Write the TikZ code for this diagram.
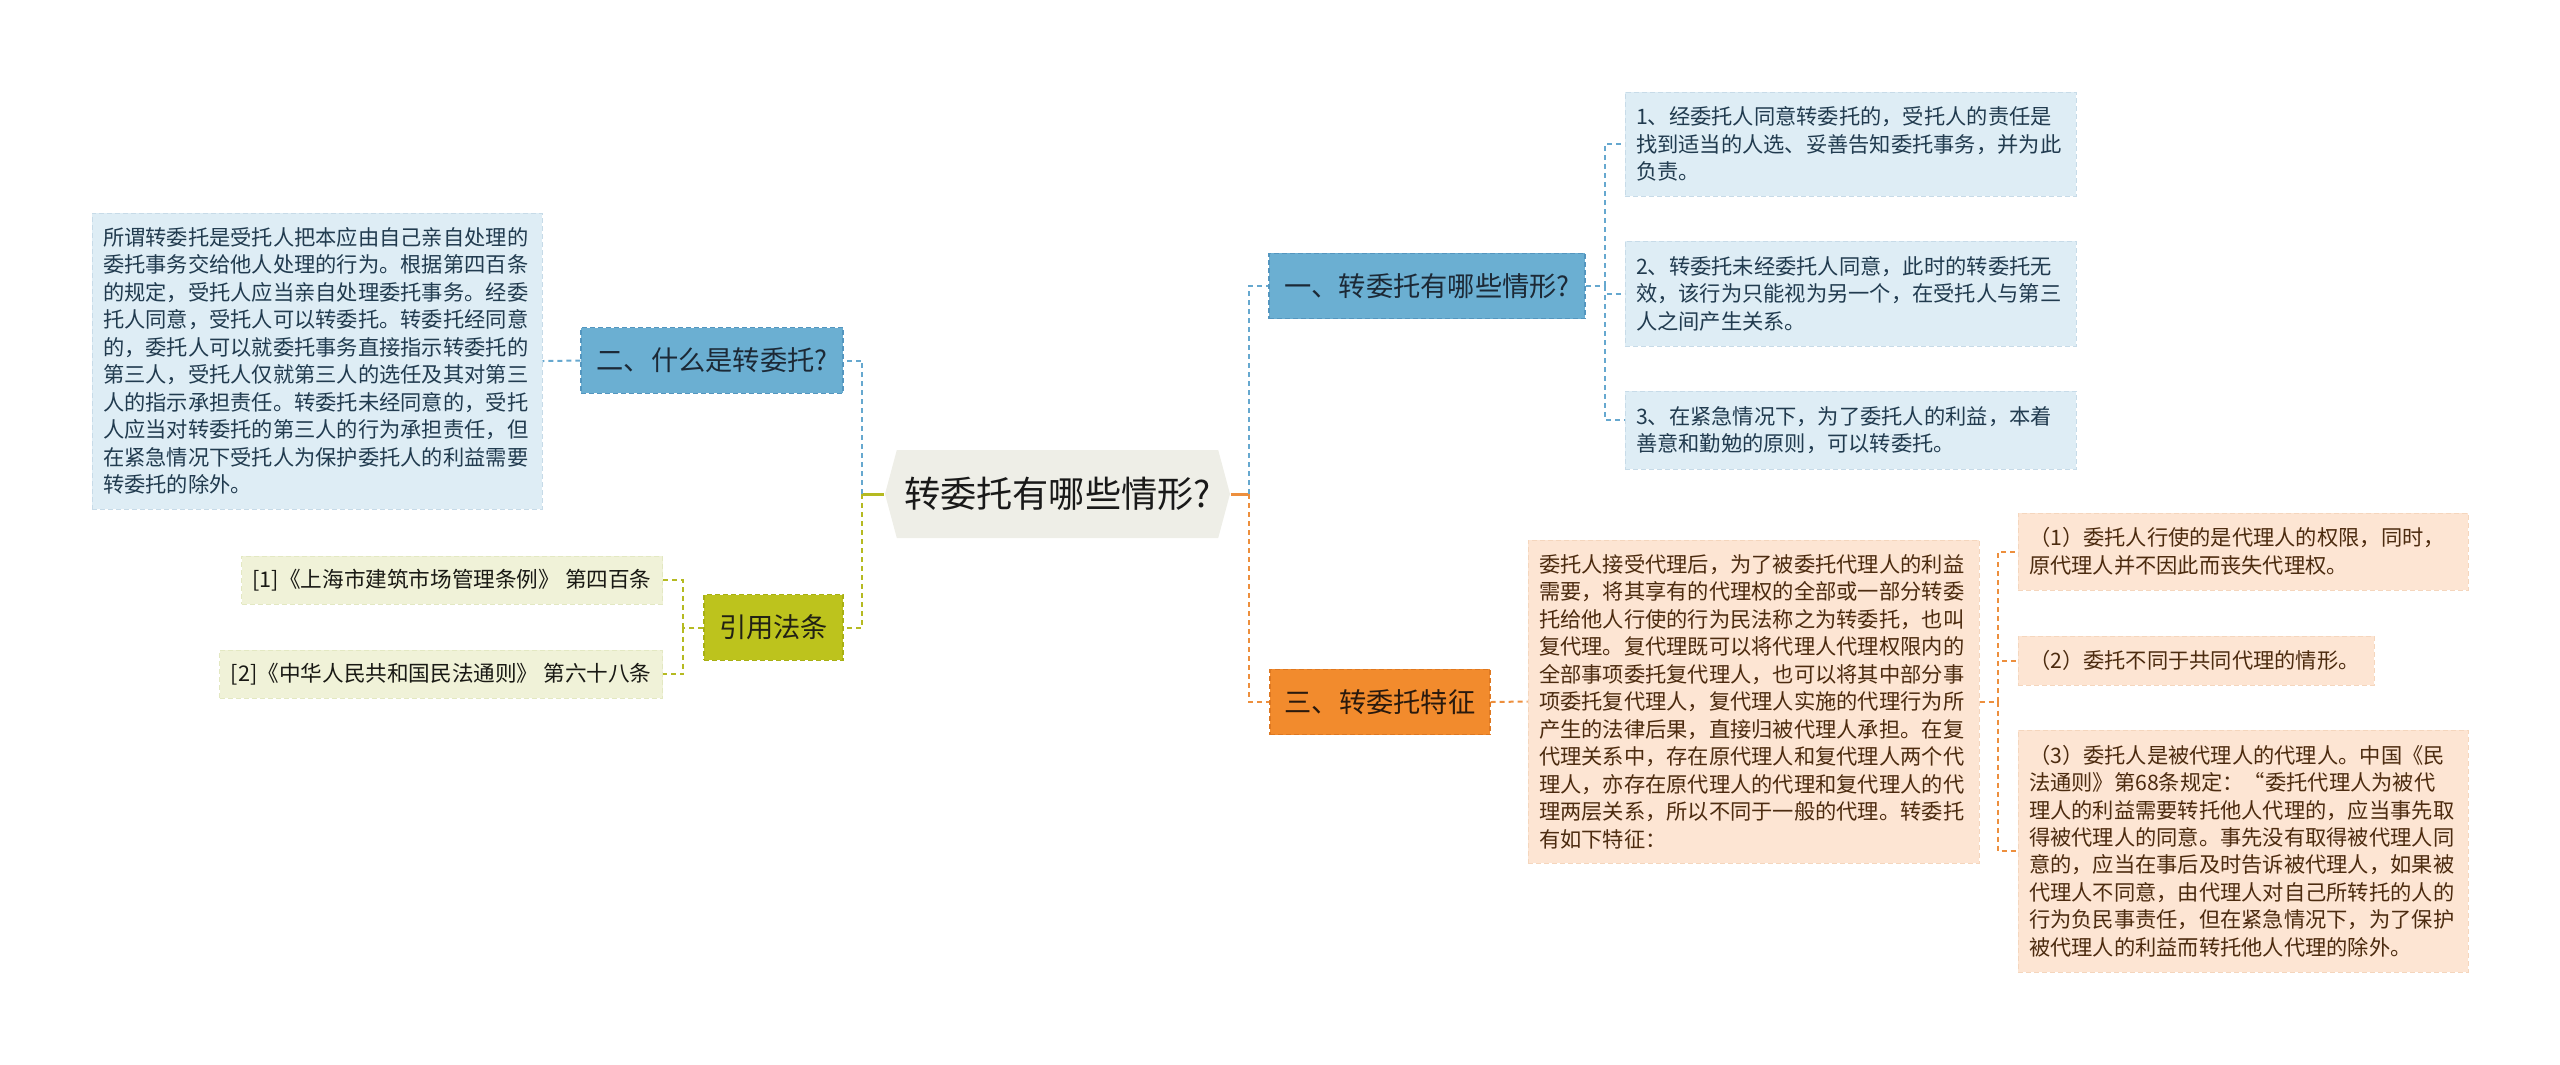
\documentclass[tikz,border=0pt]{standalone}
\usepackage{fontspec}
\setmainfont{Noto Sans CJK SC}
\usetikzlibrary{shapes.symbols,positioning}

\begin{document}
\begin{tikzpicture}[
  topic/.style={draw,dash pattern=on 0.05cm off 0.03cm,line width=0.012cm,inner sep=0pt,
    minimum height=0.655cm,font=\fontsize{7.75pt}{9pt}\selectfont},
  leaf/.style={draw,dash pattern=on 0.05cm off 0.03cm,line width=0.01cm,inner xsep=0.11cm,
    inner ysep=0pt,align=left,font=\fontsize{6.05pt}{7.82pt}\selectfont},
  link/.style={dash pattern=on 0.05cm off 0.04cm,line width=0.02cm},
  stem/.style={line width=0.03cm}
]
%
\useasboundingbox (0,0) rectangle (25.6,-10.64);
%
\definecolor{cfv0}{rgb}{0.933,0.933,0.906}
\definecolor{clv0}{rgb}{0.10,0.10,0.10}
\definecolor{cv1}{rgb}{0.33,0.59,0.75}
\definecolor{cfv1}{rgb}{0.42,0.686,0.824}
\definecolor{clv1}{rgb}{0.11,0.16,0.21}
\definecolor{cv3}{rgb}{0.66,0.69,0.08}
\definecolor{cfv3}{rgb}{0.741,0.765,0.114}
\definecolor{clv3}{rgb}{0.13,0.13,0.08}
\definecolor{cv4}{rgb}{0.87,0.47,0.13}
\definecolor{cfv4}{rgb}{0.949,0.545,0.176}
\definecolor{clv4}{rgb}{0.16,0.10,0.05}
\definecolor{cv5}{rgb}{0.78,0.86,0.91}
\definecolor{cfv5}{rgb}{0.871,0.929,0.961}
\definecolor{clv5}{rgb}{0.13,0.23,0.31}
\definecolor{cv6}{rgb}{0.89,0.91,0.76}
\definecolor{cfv6}{rgb}{0.941,0.949,0.847}
\definecolor{clv6}{rgb}{0.10,0.10,0.08}
\definecolor{cv11}{rgb}{0.96,0.84,0.74}
\definecolor{cfv11}{rgb}{0.992,0.898,0.827}
\definecolor{clv11}{rgb}{0.30,0.17,0.06}
\definecolor{cv0v1}{rgb}{0.40,0.66,0.81}
\definecolor{cv0v3}{rgb}{0.71,0.73,0.13}
\definecolor{cv0v4}{rgb}{0.93,0.56,0.24}
%
\node[signal,signal to=west and east,signal pointer angle=150,fill=cfv0,text=clv0,
  minimum width=3.45cm,minimum height=0.88cm,inner sep=0pt,
  font=\fontsize{10.3pt}{12pt}\selectfont] (v0) at (10.575,-4.94) {转委托有哪些情形?};
%
\node[topic,color=cv1,fill=cfv1,text=clv1,minimum width=3.16cm] (v1) at (14.27,-2.86) {一、转委托有哪些情形?};
\node[topic,color=cv1,fill=cfv1,text=clv1,minimum width=2.62cm] (v2) at (7.12,-3.605) {二、什么是转委托?};
\node[topic,color=cv3,fill=cfv3,text=clv3,minimum width=1.39cm] (v3) at (7.735,-6.275) {引用法条};
\node[topic,color=cv4,fill=cfv4,text=clv4,minimum width=2.20cm] (v4) at (13.80,-7.02) {三、转委托特征};
%
\node[leaf,color=cv5,fill=cfv5,text=clv5,text width=4.28cm,minimum height=2.96cm] (v5) at (3.17,-3.61) {所谓转委托是受托人把本应由自己亲自处理的\\委托事务交给他人处理的行为。根据第四百条\\的规定，受托人应当亲自处理委托事务。经委\\托人同意，受托人可以转委托。转委托经同意\\的，委托人可以就委托事务直接指示转委托的\\第三人，受托人仅就第三人的选任及其对第三\\人的指示承担责任。转委托未经同意的，受托\\人应当对转委托的第三人的行为承担责任，但\\在紧急情况下受托人为保护委托人的利益需要\\转委托的除外。};
%
\node[leaf,color=cv6,fill=cfv6,text=clv6,minimum height=0.48cm,anchor=east,
  font=\fontsize{6.15pt}{7.8pt}\selectfont] (v6) at (6.63,-5.80) {[1]《上海市建筑市场管理条例》 第四百条};
\node[leaf,color=cv6,fill=cfv6,text=clv6,minimum height=0.48cm,anchor=east,
  font=\fontsize{6.15pt}{7.8pt}\selectfont] (v7) at (6.63,-6.74) {[2]《中华人民共和国民法通则》 第六十八条};
%
\node[leaf,color=cv5,fill=cfv5,text=clv5,text width=4.29cm,minimum height=1.04cm] (v8) at (18.505,-1.44) {1、经委托人同意转委托的，受托人的责任是\\找到适当的人选、妥善告知委托事务，并为此\\负责。};
\node[leaf,color=cv5,fill=cfv5,text=clv5,text width=4.29cm,minimum height=1.05cm] (v9) at (18.505,-2.935) {2、转委托未经委托人同意，此时的转委托无\\效，该行为只能视为另一个，在受托人与第三\\人之间产生关系。};
\node[leaf,color=cv5,fill=cfv5,text=clv5,text width=4.29cm,minimum height=0.78cm] (v10) at (18.505,-4.30) {3、在紧急情况下，为了委托人的利益，本着\\善意和勤勉的原则，可以转委托。};
%
\node[leaf,color=cv11,fill=cfv11,text=clv11,text width=4.29cm,minimum height=3.23cm] (v11) at (17.535,-7.015) {委托人接受代理后，为了被委托代理人的利益\\需要，将其享有的代理权的全部或一部分转委\\托给他人行使的行为民法称之为转委托，也叫\\复代理。复代理既可以将代理人代理权限内的\\全部事项委托复代理人，也可以将其中部分事\\项委托复代理人，复代理人实施的代理行为所\\产生的法律后果，直接归被代理人承担。在复\\代理关系中，存在原代理人和复代理人两个代\\理人，亦存在原代理人的代理和复代理人的代\\理两层关系，所以不同于一般的代理。转委托\\有如下特征：};
%
\node[leaf,color=cv11,fill=cfv11,text=clv11,text width=4.28cm,minimum height=0.77cm] (v12) at (22.43,-5.515) {（1）委托人行使的是代理人的权限，同时，\\原代理人并不因此而丧失代理权。};
\node[leaf,color=cv11,fill=cfv11,text=clv11,text width=3.34cm,minimum height=0.49cm] (v13) at (21.96,-6.605) {（2）委托不同于共同代理的情形。};
\node[leaf,color=cv11,fill=cfv11,text=clv11,text width=4.28cm,minimum height=2.42cm] (v14) at (22.43,-8.51) {（3）委托人是被代理人的代理人。中国《民\\法通则》第68条规定：“委托代理人为被代\\理人的利益需要转托他人代理的，应当事先取\\得被代理人的同意。事先没有取得被代理人同\\意的，应当在事后及时告诉被代理人，如果被\\代理人不同意，由代理人对自己所转托的人的\\行为负民事责任，但在紧急情况下，为了保护\\被代理人的利益而转托他人代理的除外。};
%
\coordinate (j0) at (8.62,-4.94);
\coordinate (j1) at (12.49,-4.94);
\coordinate (j2) at (16.05,-2.86);
\coordinate (j3) at (6.83,-6.275);
\coordinate (j4) at (19.98,-7.015);
%
\draw[stem,cv0v3] (v0.west) -- (j0);
\draw[stem,cv0v4] (v0.east) -- (j1);
\draw[link,cv0v1] (j0) |- (v2.east);
\draw[link,cv0v3] (j0) |- (v3.east);
\draw[link,cv0v1] (j1) |- (v1.west);
\draw[link,cv0v4] (j1) |- (v4.west);
%
\draw[link,cv0v1] (v2.west) -- (v5.east);
\draw[link,cv0v3] (v3.west) -- (j3);
\draw[link,cv0v3] (j3) |- (v6.east);
\draw[link,cv0v3] (j3) |- (v7.east);
%
\draw[link,cv0v1] (v1.east) -- (j2);
\draw[link,cv0v1] (j2) |- (v8.west);
\draw[link,cv0v1] (j2) |- (v9.west);
\draw[link,cv0v1] (j2) |- ([yshift=0.10cm]v10.west);
%
\draw[link,cv0v4] (v4.east) -- (v11.west);
\draw[link,cv0v4] (v11.east) -- (j4);
\draw[link,cv0v4] (j4) |- (v12.west);
\draw[link,cv0v4] (j4) |- (v13.west);
\draw[link,cv0v4] (j4) |- (v14.west);
%
\end{tikzpicture}
\end{document}
